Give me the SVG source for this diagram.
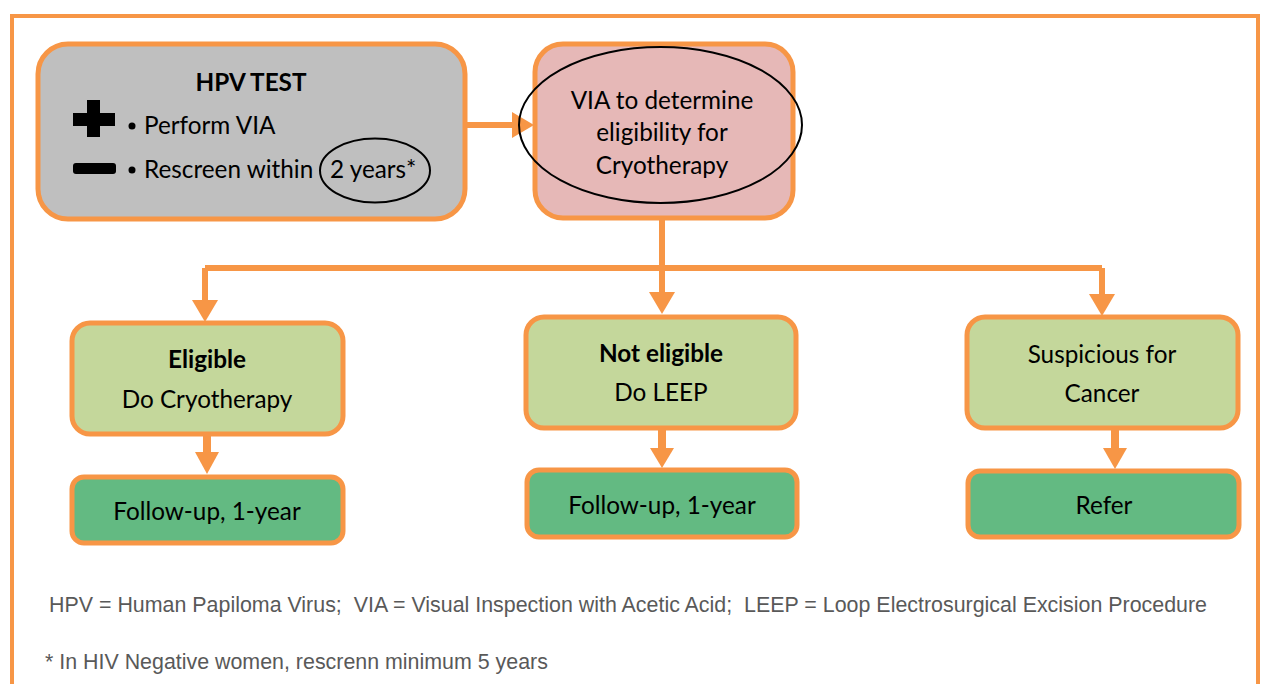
<svg xmlns="http://www.w3.org/2000/svg" width="1261" height="684" viewBox="0 0 1261 684">
<defs>
<style>
.box{stroke:#F79646;stroke-width:5}
.t{font-family:Lato,"Open Sans",sans-serif;font-size:24.3px;fill:#000;text-anchor:middle}
.s{text-anchor:start}
.b{font-weight:bold}
.conn{stroke:#F79646;stroke-width:6;fill:none}
.head{fill:#F79646}
.foot{font-family:"Liberation Sans",Arial,sans-serif;font-size:21.4px;fill:#595959;white-space:pre}
</style>
</defs>
<rect width="1261" height="684" fill="#fff"/>
<path d="M12,684 V16 H1258 V684" fill="none" stroke="#F79646" stroke-width="4"/>

<g id="connectors">
<path class="conn" d="M465,125 H514"/>
<polygon class="head" points="512,112 534,125 512,138"/>
<path class="conn" d="M662,218 V296"/>
<path class="conn" d="M205,268 H1102"/>
<path class="conn" d="M205,268 V303"/>
<polygon class="head" points="192,300 218,300 205,322"/>
<polygon class="head" points="649,292 675,292 662,314"/>
<path class="conn" d="M1102,268 V296"/>
<polygon class="head" points="1089,294 1115,294 1102,316"/>
<path class="conn" d="M207,434 V455" style="stroke-width:8"/>
<polygon class="head" points="195,452 219,452 207,474"/>
<path class="conn" d="M662,428 V450" style="stroke-width:8"/>
<polygon class="head" points="650,448 674,448 662,468"/>
<path class="conn" d="M1115,428 V450" style="stroke-width:8"/>
<polygon class="head" points="1103,448 1127,448 1115,469"/>
</g>

<g id="hpv">
<rect class="box" x="38" y="44" width="427" height="175" rx="30" fill="#BFBFBF"/>
<text class="t b" x="251" y="91">HPV TEST</text>
<path d="M87,100 H100 V113 H115 V126 H100 V137 H87 V126 H73 V113 H87 Z" fill="#000"/>
<rect x="73" y="163" width="43" height="11" rx="3" fill="#000"/>
<circle cx="132" cy="126" r="3.5" fill="#000"/>
<circle cx="132" cy="170" r="3.5" fill="#000"/>
<text class="t s" x="144" y="134">Perform VIA</text>
<text class="t s" x="144" y="178">Rescreen within <tspan x="330">2 years*</tspan></text>
<ellipse cx="375" cy="170.5" rx="55" ry="32" fill="none" stroke="#000" stroke-width="2"/>
</g>

<g id="via">
<rect class="box" x="535" y="44" width="258" height="174" rx="28" fill="#E6B8B7"/>
<ellipse cx="660.5" cy="125" rx="141.5" ry="78" fill="none" stroke="#000" stroke-width="2"/>
<text class="t" x="662" y="109">VIA to determine</text>
<text class="t" x="662" y="141">eligibility for</text>
<text class="t" x="662" y="174">Cryotherapy</text>
</g>

<g id="eligible">
<rect class="box" x="72" y="323" width="271" height="111" rx="18" fill="#C4D79B"/>
<text class="t b" x="207" y="368">Eligible</text>
<text class="t" x="207" y="408">Do Cryotherapy</text>
</g>
<g id="followup1">
<rect class="box" x="72" y="477" width="271" height="66" rx="12" fill="#63BA82"/>
<text class="t" x="207" y="520">Follow-up, 1-year</text>
</g>

<g id="noteligible">
<rect class="box" x="526" y="317" width="270" height="111" rx="18" fill="#C4D79B"/>
<text class="t b" x="661" y="362">Not eligible</text>
<text class="t" x="661" y="401">Do LEEP</text>
</g>
<g id="followup2">
<rect class="box" x="527" y="470" width="270" height="67" rx="12" fill="#63BA82"/>
<text class="t" x="662" y="514">Follow-up, 1-year</text>
</g>

<g id="suspicious">
<rect class="box" x="967" y="317" width="271" height="111" rx="18" fill="#C4D79B"/>
<text class="t" x="1102" y="363">Suspicious for</text>
<text class="t" x="1102" y="402">Cancer</text>
</g>
<g id="refer">
<rect class="box" x="968" y="471" width="271" height="66" rx="12" fill="#63BA82"/>
<text class="t" x="1104" y="514">Refer</text>
</g>

<g id="footnotes">
<text class="foot" x="49" y="612" textLength="1158" xml:space="preserve">HPV = Human Papiloma Virus;  VIA = Visual Inspection with Acetic Acid;  LEEP = Loop Electrosurgical Excision Procedure</text>
<text class="foot" x="45" y="669">* In HIV Negative women, rescrenn minimum 5 years</text>
</g>
</svg>
